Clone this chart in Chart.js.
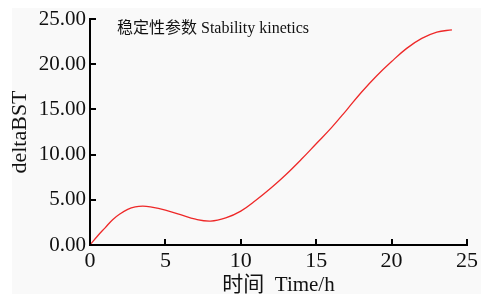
<!DOCTYPE html>
<html>
<head>
<meta charset="utf-8">
<script src="https://cdn.jsdelivr.net/npm/chart.js@4/dist/chart.umd.min.js"></script>
<style>
  html, body { margin: 0; padding: 0; background: #fff; }
  canvas { display: block; }
</style>
</head>
<body>
<canvas id="myChart" width="481" height="294"></canvas>
<script>
// time in hours
var hours = [0, 0.5, 1, 1.5, 2, 2.5, 3, 3.5, 4, 5, 6, 7, 8, 9, 10, 11, 12, 13, 14, 15, 16, 17, 18, 19, 20, 21, 22, 23, 24];
// deltaBST
var deltaBST = [0, 1.0, 1.9, 2.8, 3.45, 3.95, 4.22, 4.3, 4.22, 3.87, 3.35, 2.85, 2.65, 3.0, 3.75, 4.95, 6.3, 7.8, 9.45, 11.2, 12.95, 14.9, 16.9, 18.7, 20.3, 21.75, 22.85, 23.55, 23.8];
var xTicks = [0, 5, 10, 15, 20, 25];
var yTicks = [0, 5, 10, 15, 20, 25];
var note = '稳定性参数 Stability kinetics';

var serif = "'Liberation Serif', 'Noto Sans CJK SC', serif";

// grey panel behind everything, inward tick marks and the note in the corner
var decor = {
    id: 'decor',
    beforeDraw: function(chart) {
        var ctx = chart.ctx;
        ctx.save();
        ctx.fillStyle = '#ffffff';
        ctx.fillRect(0, 0, chart.width, chart.height);
        ctx.fillStyle = '#f9f9f9';
        ctx.fillRect(12, 8, chart.width - 12, chart.height - 8);
        ctx.restore();
    },
    afterDraw: function(chart) {
        var ctx = chart.ctx;
        var area = chart.chartArea;
        var xs = chart.scales.x, ys = chart.scales.y;
        ctx.save();
        ctx.strokeStyle = '#000';
        ctx.lineWidth = 2;
        ctx.beginPath();
        yTicks.forEach(function(v) {
            var py = Math.round(ys.getPixelForValue(v));
            ctx.moveTo(area.left, py);
            ctx.lineTo(area.left + 6, py);
        });
        xTicks.forEach(function(v) {
            var px = Math.round(xs.getPixelForValue(v));
            ctx.moveTo(px, area.bottom);
            ctx.lineTo(px, area.bottom - 6);
        });
        ctx.stroke();

        ctx.fillStyle = '#111';
        ctx.font = "16px " + serif;
        ctx.textBaseline = 'middle';
        ctx.fillText(note, area.left + 27, area.top + 10);
        ctx.restore();
    }
};

var points = hours.map(function(h, i) { return {x: h, y: deltaBST[i]}; });

var ctx = document.getElementById('myChart').getContext('2d');
var chart = new Chart(ctx, {
    type: 'line',
    data: {
        datasets: [{
            data: points,
            borderColor: 'rgb(238, 40, 40)',
            borderWidth: 1.3,
            pointRadius: 0,
            tension: 0.4,
            fill: false
        }]
    },
    plugins: [decor],
    options: {
        responsive: false,
        animation: false,
        devicePixelRatio: 1,
        layout: { padding: { left: 0, right: 6, top: 19, bottom: 0 } },
        plugins: {
            legend: { display: false },
            tooltip: { enabled: false }
        },
        scales: {
            x: {
                type: 'linear',
                min: 0,
                max: 25,
                afterBuildTicks: function(axis) {
                    axis.ticks = xTicks.map(function(v) { return {value: v}; });
                },
                afterFit: function(axis) { axis.height = 49; },
                border: { color: '#000', width: 2 },
                grid: { drawOnChartArea: false, drawTicks: false },
                ticks: {
                    color: '#111',
                    padding: 3,
                    maxRotation: 0,
                    font: { family: serif, size: 22 }
                },
                title: {
                    display: true,
                    text: '时间  Time/h',
                    color: '#111',
                    padding: 0,
                    font: { family: serif, size: 21, lineHeight: 0.85 }
                }
            },
            y: {
                min: 0,
                max: 25,
                afterBuildTicks: function(axis) {
                    axis.ticks = yTicks.map(function(v) { return {value: v}; });
                },
                afterFit: function(axis) { axis.width = 90; },
                border: { color: '#000', width: 2 },
                grid: { drawOnChartArea: false, drawTicks: false },
                ticks: {
                    color: '#111',
                    padding: 4,
                    font: { family: serif, size: 21 },
                    callback: function(v) { return Number(v).toFixed(2); }
                },
                title: {
                    display: true,
                    text: 'deltaBST',
                    color: '#111',
                    padding: 7,
                    font: { family: serif, size: 22 }
                }
            }
        }
    }
});
</script>
</body>
</html>
